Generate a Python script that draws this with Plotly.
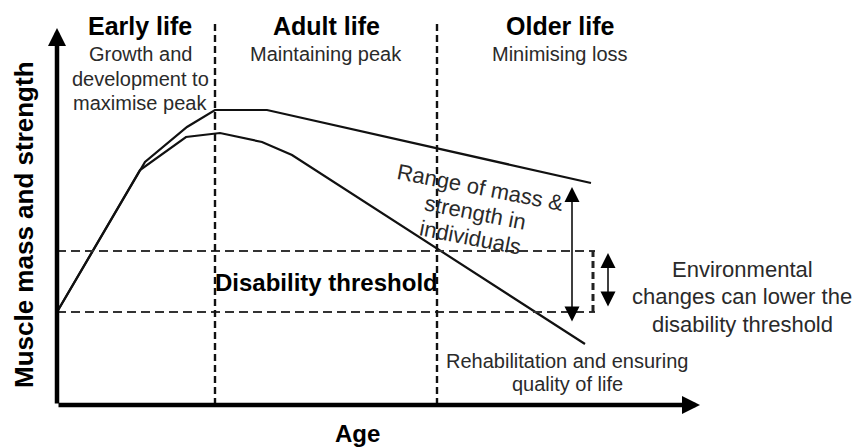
import plotly.graph_objects as go

# ---------------- data (schematic units: age along x, muscle mass/strength along y) -------------
upper_age = [0, 88, 130, 158, 210, 380, 534]
upper_mass = [93, 243, 278, 295, 295, 257, 222]

lower_age = [0, 83, 129, 163, 205, 235, 528]
lower_mass = [93, 235, 268, 272, 263, 250, 61]

threshold_high = 154
threshold_low = 93
threshold_end_age = 538

stage_bounds = [158, 380]
stage_top = 383

axis_x_end = 643
axis_y_end = 377

range_arrow_age = 515
range_arrow_low, range_arrow_high = 82, 218
env_arrow_age = 551
env_arrow_low, env_arrow_high = 97, 152

stage_titles = ["Early life", "Adult life", "Older life"]
stage_title_x = [83, 269, 503]
stage_sub = [["Growth and", "development to", "maximise peak"],
             ["Maintaining peak"],
             ["Minimising loss"]]

FONT = "Arial, Liberation Sans, Helvetica, sans-serif"
BLACK = "#111111"
GREY = "#2a2a2a"

fig = go.Figure()

# curves
fig.add_trace(go.Scatter(x=upper_age, y=upper_mass, mode="lines",
                         line=dict(color=BLACK, width=2.2), hoverinfo="skip"))
fig.add_trace(go.Scatter(x=lower_age, y=lower_mass, mode="lines",
                         line=dict(color=BLACK, width=2.2), hoverinfo="skip"))

# disability threshold dashed lines
for th in [threshold_high, threshold_low]:
    fig.add_trace(go.Scatter(x=[0, threshold_end_age], y=[th, th], mode="lines",
                             line=dict(color="#333333", width=2, dash="9px,5px"),
                             hoverinfo="skip"))
fig.add_trace(go.Scatter(x=[threshold_end_age - 2, threshold_end_age - 2],
                         y=[threshold_low, threshold_high], mode="lines",
                         line=dict(color="#222222", width=3, dash="7px,4px"),
                         hoverinfo="skip"))

# life stage boundaries
for b in stage_bounds:
    fig.add_trace(go.Scatter(x=[b, b], y=[0, stage_top], mode="lines",
                             line=dict(color="#111111", width=2.4, dash="7px,4px"),
                             hoverinfo="skip"))

annotations = []

# axes arrows
annotations.append(dict(x=axis_x_end, y=0, ax=0, ay=0, xref="x", yref="y", axref="x", ayref="y",
                        showarrow=True, arrowhead=2, arrowwidth=4.5, arrowsize=0.8,
                        arrowcolor="#000000", text=""))
annotations.append(dict(x=0, y=axis_y_end, ax=0, ay=0, xref="x", yref="y", axref="x", ayref="y",
                        showarrow=True, arrowhead=2, arrowwidth=4.5, arrowsize=0.8,
                        arrowcolor="#000000", text=""))

# double arrows
annotations.append(dict(x=range_arrow_age, y=range_arrow_high, ax=range_arrow_age, ay=range_arrow_low,
                        xref="x", yref="y", axref="x", ayref="y",
                        showarrow=True, arrowhead=2, startarrowhead=2, arrowside="end+start",
                        arrowwidth=1.5, arrowsize=2.0, startarrowsize=2.0,
                        arrowcolor="#000000", text=""))
annotations.append(dict(x=env_arrow_age, y=env_arrow_high, ax=env_arrow_age, ay=env_arrow_low,
                        xref="x", yref="y", axref="x", ayref="y",
                        showarrow=True, arrowhead=2, startarrowhead=2, arrowside="end+start",
                        arrowwidth=1.5, arrowsize=2.0, startarrowsize=2.0,
                        arrowcolor="#000000", text=""))


def txt(x, y, s, size, bold=False, color=GREY, angle=0):
    annotations.append(dict(x=x, y=y, xref="x", yref="y", text=f"<b>{s}</b>" if bold else s,
                            showarrow=False, xanchor="center", yanchor="middle",
                            textangle=angle,
                            font=dict(family=FONT, size=size, color=color)))


# stage titles
for tx, title, subs in zip(stage_title_x, stage_titles, stage_sub):
    txt(tx, 379.5, title, 25, bold=True, color="#000000")
    for i, s in enumerate(subs):
        txt(tx, 351 - i * 24.5, s, 20)

txt(269, 122.4, "Disability threshold", 24, bold=True, color="#000000")
txt(300, -28, "Age", 24, bold=True, color="#000000")
txt(-33, 180, "Muscle mass and strength", 26, bold=True, color="#000000", angle=-90)

for i, s in enumerate(["Environmental", "changes can lower the", "disability threshold"]):
    txt(685, 135.7 - i * 27.5, s, 22)

for i, s in enumerate(["Rehabilitation and ensuring", "quality of life"]):
    txt(510, 44 - i * 23, s, 20)

range_lines = ["Range of mass &", "strength in", "individuals"]
range_pos = [(423, 218), (418, 193), (413, 168)]
for (rx, ry), s in zip(range_pos, range_lines):
    txt(rx, ry, s, 22, angle=11)

# the page body has an 8px default margin: shift the visible ranges to compensate
fig.update_layout(
    width=860, height=448,
    margin=dict(l=0, r=0, t=0, b=0),
    paper_bgcolor="white", plot_bgcolor="white",
    showlegend=False,
    xaxis=dict(range=[-49, 811], visible=False, fixedrange=True),
    yaxis=dict(range=[-51, 397], visible=False, fixedrange=True),
    annotations=annotations,
)

fig.write_html("out.html")
